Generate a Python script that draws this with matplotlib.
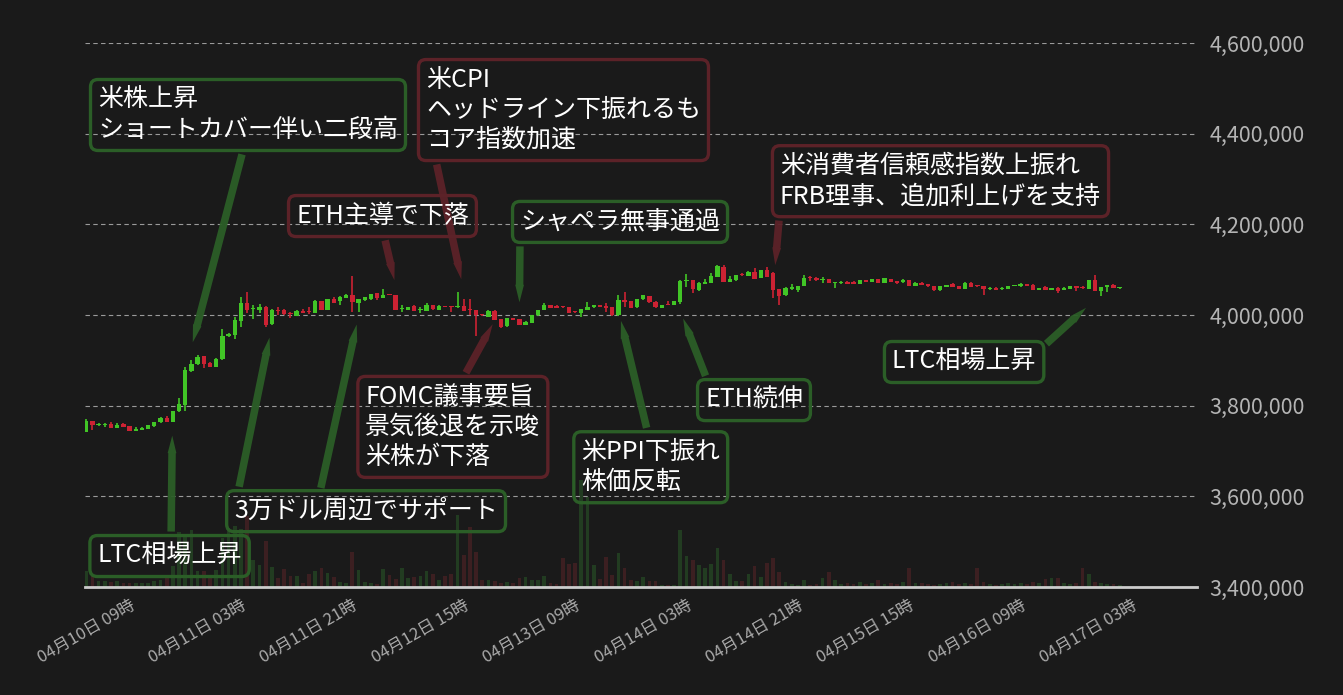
import numpy as np
import pandas as pd
import matplotlib
matplotlib.use('Agg')
import matplotlib.pyplot as plt
from matplotlib.ticker import FuncFormatter

plt.rcParams['font.family'] = ['Noto Sans CJK JP', 'DejaVu Sans']

BG = '#1a1a1a'
UP = '#41c526'
DOWN = '#cc2233'
VOL_UP = '#223c21'
VOL_DOWN = '#3c1f21'
GREEN_BOX = '#2b5e27'
RED_BOX = '#5c2228'

# hourly candles from 2023-04-10 02:00, prices in thousand yen
start = pd.Timestamp('2023-04-10 02:00')
opens = [3743, 3766, 3757, 3757, 3760, 3751, 3759, 3755, 3745, 3747,
         3749, 3755, 3763, 3773, 3764, 3788, 3801, 3876, 3892, 3909,
         3895, 3886, 3902, 3953, 3957, 3987, 4026, 4013, 4011, 4017,
         3980, 4011, 4011, 4005, 3998, 4009, 4007, 4005, 4031, 4011,
         4035, 4032, 4038, 4044, 4027, 4033, 4035, 4048, 4038, 4045,
         4044, 4014, 4011, 4020, 4011, 4009, 4022, 4011, 4019, 4019,
         4017, 4020, 4011, 4011, 4000, 3996, 4009, 3991, 3976, 3993,
         3991, 3978, 3983, 3999, 4011, 4022, 4020, 4018, 4017, 4007,
         4005, 4011, 4017, 4022, 4020, 4017, 3999, 4033, 4031, 4017,
         4035, 4042, 4029, 4016, 4023, 4022, 4029, 4075, 4077, 4055,
         4069, 4071, 4084, 4107, 4073, 4077, 4089, 4087, 4095, 4082,
         4099, 4093, 4057, 4044, 4057, 4055, 4064, 4082, 4082, 4078,
         4079, 4071, 4071, 4073, 4073, 4069, 4077, 4073, 4079, 4071,
         4079, 4075, 4072, 4077, 4065, 4071, 4068, 4064, 4055, 4062,
         4069, 4064, 4058, 4071, 4064, 4064, 4058, 4060, 4057, 4058,
         4063, 4063, 4068, 4067, 4056, 4062, 4056, 4060, 4056, 4058,
         4064, 4062, 4058, 4077, 4054, 4061, 4067, 4060]
closes = [3766, 3758, 3760, 3760, 3751, 3757, 3753, 3745, 3749, 3751,
          3757, 3764, 3773, 3764, 3788, 3804, 3879, 3892, 3907, 3892,
          3886, 3903, 3954, 3958, 3989, 4026, 4011, 4015, 4017, 3978,
          4011, 4009, 4003, 4002, 4009, 4005, 4006, 4031, 4011, 4035,
          4027, 4040, 4044, 4028, 4035, 4039, 4046, 4038, 4044, 4044,
          4011, 4015, 4017, 4009, 4012, 4022, 4013, 4020, 4018, 4018,
          4020, 4009, 4010, 4000, 3999, 4009, 3989, 3974, 3993, 3989,
          3978, 3985, 3999, 4011, 4022, 4016, 4016, 4017, 4005, 4006,
          4013, 4018, 4022, 4018, 4016, 3999, 4033, 4029, 4016, 4035,
          4044, 4028, 4017, 4022, 4022, 4031, 4075, 4076, 4057, 4071,
          4073, 4086, 4109, 4073, 4079, 4088, 4088, 4095, 4080, 4099,
          4084, 4055, 4043, 4060, 4062, 4064, 4082, 4081, 4077, 4079,
          4071, 4072, 4072, 4069, 4069, 4077, 4073, 4079, 4071, 4081,
          4073, 4071, 4077, 4065, 4071, 4067, 4063, 4055, 4064, 4066,
          4062, 4058, 4071, 4062, 4063, 4057, 4059, 4056, 4060, 4064,
          4064, 4069, 4065, 4056, 4059, 4056, 4059, 4054, 4060, 4064,
          4060, 4059, 4077, 4054, 4061, 4066, 4060, 4061]
highs = [3771, 3767, 3761, 3761, 3763, 3761, 3761, 3756, 3754, 3752,
         3758, 3765, 3774, 3777, 3789, 3817, 3886, 3901, 3912, 3910,
         3896, 3906, 3969, 3960, 3996, 4040, 4051, 4022, 4024, 4019,
         4013, 4018, 4013, 4006, 4011, 4014, 4018, 4033, 4032, 4036,
         4040, 4041, 4046, 4086, 4036, 4040, 4047, 4049, 4057, 4045,
         4045, 4022, 4018, 4021, 4017, 4027, 4023, 4021, 4020, 4020,
         4051, 4035, 4035, 4012, 4000, 4012, 4010, 3992, 3994, 3994,
         3992, 3986, 4000, 4012, 4027, 4023, 4021, 4018, 4018, 4007,
         4014, 4028, 4023, 4023, 4026, 4018, 4044, 4050, 4032, 4036,
         4045, 4043, 4030, 4023, 4031, 4032, 4077, 4090, 4078, 4073,
         4079, 4093, 4111, 4110, 4086, 4089, 4093, 4096, 4104, 4100,
         4105, 4094, 4058, 4061, 4068, 4065, 4088, 4086, 4083, 4084,
         4080, 4073, 4076, 4074, 4074, 4078, 4078, 4080, 4080, 4082,
         4080, 4076, 4079, 4078, 4072, 4073, 4069, 4065, 4065, 4067,
         4071, 4065, 4072, 4072, 4065, 4065, 4062, 4061, 4061, 4065,
         4066, 4070, 4069, 4068, 4060, 4063, 4060, 4061, 4061, 4065,
         4065, 4063, 4078, 4088, 4062, 4067, 4068, 4062]
lows = [3742, 3746, 3755, 3754, 3750, 3750, 3752, 3744, 3744, 3746,
        3748, 3754, 3762, 3763, 3763, 3787, 3789, 3874, 3890, 3883,
        3885, 3885, 3901, 3952, 3947, 3974, 4004, 3991, 4004, 3973,
        3978, 4000, 4001, 3993, 3997, 4004, 4002, 4004, 4010, 4010,
        4026, 4022, 4037, 4007, 4007, 4032, 4034, 4033, 4037, 4044,
        4010, 4007, 4010, 4008, 4004, 4008, 4012, 4010, 4017, 4007,
        4016, 4008, 4000, 3954, 3998, 3995, 3988, 3972, 3974, 3988,
        3977, 3977, 3982, 3998, 4010, 4015, 4015, 4016, 4004, 4005,
        3996, 4010, 4016, 4017, 4007, 3998, 3998, 4018, 4015, 4016,
        4034, 4027, 4016, 4015, 4021, 4021, 4024, 4062, 4048, 4054,
        4068, 4070, 4083, 4072, 4072, 4076, 4087, 4086, 4079, 4081,
        4083, 4038, 4022, 4043, 4056, 4051, 4063, 4074, 4076, 4071,
        4070, 4059, 4068, 4068, 4068, 4068, 4072, 4072, 4070, 4070,
        4072, 4069, 4071, 4064, 4064, 4066, 4062, 4054, 4054, 4061,
        4061, 4057, 4057, 4061, 4062, 4044, 4056, 4055, 4056, 4057,
        4063, 4062, 4064, 4055, 4055, 4055, 4055, 4049, 4055, 4057,
        4054, 4058, 4057, 4053, 4043, 4051, 4059, 4057]
volumes = [16, 12, 6, 6, 5, 6, 4, 4, 4, 4,
           4, 6, 7, 12, 21, 55, 52, 57, 16, 16,
           12, 17, 49, 59, 61, 58, 71, 27, 22, 46,
           20, 9, 18, 11, 11, 4, 13, 16, 19, 14,
           10, 5, 4, 35, 17, 5, 4, 3, 18, 12,
           8, 19, 9, 10, 11, 16, 13, 7, 11, 13,
           72, 32, 60, 35, 7, 7, 6, 4, 5, 4,
           9, 10, 7, 7, 11, 4, 3, 29, 23, 24,
           106, 89, 22, 8, 30, 12, 34, 19, 7, 6,
           10, 6, 6, 2, 2, 2, 57, 31, 27, 22,
           19, 23, 39, 27, 13, 6, 6, 13, 21, 10,
           24, 29, 15, 5, 3, 2, 7, 2, 3, 9,
           15, 7, 3, 4, 3, 5, 3, 4, 7, 3,
           4, 3, 5, 19, 4, 4, 3, 2, 3, 4,
           5, 3, 4, 3, 19, 5, 3, 2, 3, 4,
           3, 4, 3, 5, 4, 8, 9, 9, 4, 3,
           4, 19, 13, 5, 4, 3, 3, 2]

# (text, colour, targets as (candle index, price), text anchor (index, price), arrow start relpos list)
notes = [
    ('米株上昇\nショートカバー伴い二段高', 'g', [(17.1, 3934000)], (1.9, 4503000), [(0.49, 0)]),
    ('米CPI\nヘッドライン下振れるも\nコア指数加速', 'r', [(60.7, 4073000)], (54.9, 4547000), [(0.03, 0)]),
    ('ETH主導で下落', 'r', [(49.9, 4071000)], (33.9, 4247000), [(0.5, 0)]),
    ('シャペラ無事通過', 'g', [(70.0, 4022000)], (70.1, 4234000), [(0.0, 0)]),
    ('米消費者信頼感指数上振れ\nFRB理事、追加利上げを支持', 'r', [(111.3, 4104000)], (112.1, 4357000), [(0.0, 0)]),
    ('FOMC議事要旨\n景気後退を示唆\n米株が下落', 'r', [(65.9, 3985000)], (45.1, 3848000), [(0.54, 1)]),
    ('ETH続伸', 'g', [(96.3, 3998000)], (100.0, 3841000), [(0.05, 1)]),
    ('米PPI下振れ\n株価反転', 'g', [(86.3, 3993000)], (80.0, 3726000), [(0.49, 1)]),
    ('LTC相場上昇', 'g', [(161.9, 4020000)], (130.2, 3925000), [(1.0, 0.85)]),
    ('3万ドル周辺でサポート', 'g', [(29.7, 3956000), (43.8, 3985000)], (23.9, 3596000), [(0.01, 1), (0.32, 1)]),
    ('LTC相場上昇', 'g', [(13.9, 3740000)], (1.8, 3497000), [(0.51, 1)]),
]

o = np.array(opens) * 1000
c = np.array(closes) * 1000
h = np.array(highs) * 1000
l = np.array(lows) * 1000
v = np.array(volumes)
x = np.arange(len(o))
up = c >= o

fig = plt.figure(figsize=(13.43, 6.95), dpi=100, facecolor=BG)
ax = fig.add_axes([0.0633, 0.1554, 0.828, 0.7827])
axv = ax.twinx()
ax.set_zorder(axv.get_zorder() + 1)
ax.patch.set_visible(False)
axv.set_facecolor(BG)

axv.bar(x, v, width=0.6, color=np.where(up, VOL_UP, VOL_DOWN), linewidth=0)
axv.set_ylim(0, v.max() * 5.1)
axv.axis('off')

cols = np.where(up, UP, DOWN)
ax.vlines(x, l, h, colors=cols, linewidth=1.2, zorder=3)
body = np.maximum(np.abs(c - o), 2500)
ax.bar(x, body, bottom=np.minimum(o, c), width=0.7, color=cols, linewidth=0, zorder=4)

ax.set_xlim(-0.2, 179.5)
ax.set_ylim(3400000, 4600000)
ax.set_yticks(np.arange(3400000, 4600001, 200000))
ax.yaxis.set_major_formatter(FuncFormatter(lambda val, _: f'{val:,.0f}'))
ax.yaxis.tick_right()
ax.grid(axis='y', color='#9a9a9a', linewidth=0.8, linestyle=(0, (4, 3)))
ax.set_axisbelow(True)

ticks = np.arange(7, 170, 18)
labels = [(start + pd.Timedelta(hours=int(t))).strftime('%m月%d日 %H時') for t in ticks]
ax.set_xticks(ticks)
ax.set_xticklabels(labels, rotation=30, ha='right', rotation_mode='anchor')
ax.tick_params(axis='x', length=0, pad=7, labelsize=12, labelcolor='#aaaaaa')
ax.tick_params(axis='y', length=0, pad=9, labelsize=15.5, labelcolor='#b4b4b4')
for s in ['top', 'left', 'right']:
    ax.spines[s].set_visible(False)
ax.spines['bottom'].set_color('#cccccc')
ax.spines['bottom'].set_linewidth(2)

for text, col, targets, pos, rels in notes:
    ec = GREEN_BOX if col == 'g' else RED_BOX
    for i, (tgt, rel) in enumerate(zip(targets, rels)):
        first = i == 0
        ax.annotate(text, xy=tgt, xytext=pos, textcoords='data',
                    fontsize=18, color='white' if first else (0, 0, 0, 0),
                    ha='left', va='top', zorder=6,
                    bbox=dict(boxstyle='round,pad=0.3', fc='none',
                              ec=ec if first else 'none', lw=2.4),
                    arrowprops=dict(arrowstyle='simple,head_length=0.7,head_width=0.35,tail_width=0.3',
                                    fc=ec, ec='none', relpos=rel, alpha=0.95))

fig.savefig('out.png', dpi=100, facecolor=BG)
